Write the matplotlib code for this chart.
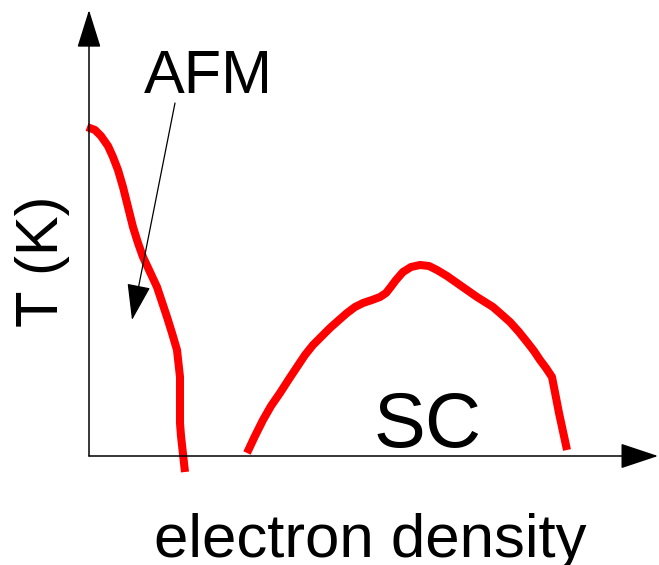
import matplotlib.pyplot as plt

plt.rcParams['font.family'] = ['Liberation Sans', 'DejaVu Sans']

# sketch coordinates: x = electron density, y = temperature (arbitrary units, origin at axes corner)
afm_x = [-2, 6, 12, 19, 24, 29, 34, 39, 44, 49, 54, 61, 68, 73, 78, 83, 88, 91, 91, 92, 96]
afm_t = [329, 326, 320, 310, 299, 286, 269, 249, 229, 213, 199, 184, 169, 154, 139, 123, 106, 79, 33, 20, -16]

sc_x = [158, 166, 174, 182, 191, 200, 208, 216, 224, 233, 241, 250, 258, 266, 274, 283, 291, 297,
        301, 307, 314, 322, 331, 340, 348, 358, 368, 378, 388, 396, 404, 412, 421, 430, 438, 445,
        451, 457, 463, 470, 478]
sc_t = [3, 20, 36, 50, 63, 77, 89, 101, 111, 120, 128, 136, 143, 149, 153, 156, 159, 163,
        168, 176, 184, 189, 191, 190, 186, 180, 173, 166, 159, 154, 149, 142, 134, 124, 114, 105,
        96, 88, 79, 43, 6]

x_max, t_max = 569, 446
afm_label = (119, 363)
afm_tip = (43, 136)
afm_tail = (86, 353)
sc_label = (339, 9)

fig = plt.figure(figsize=(6.59, 5.65), dpi=100)
ax = fig.add_axes([0, 0, 1, 1])
ax.set_xlim(-89, 570)
ax.set_ylim(-109, 456)
ax.axis('off')

# axes with arrow heads
ax.annotate('', xy=(0, t_max), xytext=(0, 0),
            arrowprops=dict(arrowstyle='-|>,head_length=24,head_width=7.5', mutation_scale=1,
                            lw=1.1, color='#6e6e6e', fc='black', ec='black',
                            shrinkA=0, shrinkB=0))
ax.annotate('', xy=(x_max, 0), xytext=(0, 0),
            arrowprops=dict(arrowstyle='-|>,head_length=24,head_width=8', mutation_scale=1,
                            lw=1.1, color='black', shrinkA=0, shrinkB=0))

# phase boundaries
ax.plot(afm_x, afm_t, color='#ff0000', lw=5.8, solid_capstyle='butt', solid_joinstyle='round')
ax.plot(sc_x, sc_t, color='#ff0000', lw=5.8, solid_capstyle='butt', solid_joinstyle='round')

# labels
ax.text(afm_label[0], afm_label[1], 'AFM', fontsize=44, ha='center', va='baseline')
ax.annotate('', xy=afm_tip, xytext=afm_tail,
            arrowprops=dict(arrowstyle='-|>,head_length=23,head_width=7.5', mutation_scale=1,
                            lw=0.9, color='black', shrinkA=0, shrinkB=0))
ax.text(sc_label[0], sc_label[1], 'SC', fontsize=56, ha='center', va='baseline')

ax.text(281, -101, 'electron density', fontsize=44.5, ha='center', va='baseline')
ax.text(-47, 195, 'T (K)', fontsize=43, rotation=90, ha='center', va='center')

fig.savefig('out.png', dpi=100)
